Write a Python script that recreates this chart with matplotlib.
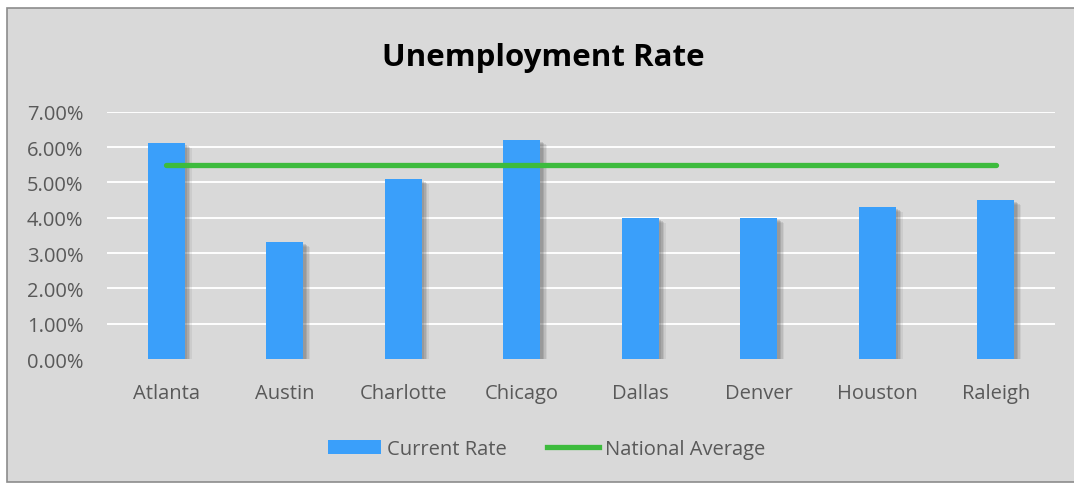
import matplotlib.pyplot as plt
import matplotlib.patheffects as pe
from matplotlib.patches import Rectangle, Patch
from matplotlib.lines import Line2D
from matplotlib.ticker import PercentFormatter

cities = ['Atlanta', 'Austin', 'Charlotte', 'Chicago', 'Dallas', 'Denver', 'Houston', 'Raleigh']
current_rate = [0.061, 0.033, 0.051, 0.062, 0.040, 0.040, 0.043, 0.045]
national_average = [0.055] * len(cities)

bar_color = '#3a9ffa'
line_color = '#3dbb3d'
text_color = '#595959'
plt.rcParams['font.family'] = ['Open Sans', 'DejaVu Sans']

fig = plt.figure(figsize=(10.74, 4.85), dpi=100)
fig.patch.set_facecolor('white')

# grey chart frame
fig.patches.append(Rectangle((7 / 1074, 2 / 485), 1.1, (485 - 11) / 485,
                             transform=fig.transFigure, facecolor='#d9d9d9',
                             edgecolor='#8c8c8c', linewidth=1.2, zorder=-10))

ax = fig.add_axes([107 / 1074, 1 - 360 / 485, 948 / 1074, 247.3 / 485])
ax.set_facecolor('none')

x = range(len(cities))
shadow = [pe.SimplePatchShadow(offset=(o, -o * 0.7), shadow_rgbFace='#606060', alpha=a)
          for o, a in [(5.0, 0.1), (4.0, 0.15), (3.0, 0.2), (2.0, 0.2)]]
bars = ax.bar(x, current_rate, width=0.31, color=bar_color, zorder=3,
              label='Current Rate')
for b in bars:
    b.set_path_effects(shadow + [pe.Normal()])

ax.plot(x, national_average, color=line_color, linewidth=3.8, zorder=4,
        solid_capstyle='round', label='National Average')

ax.set_xlim(-0.5, len(cities) - 0.5)
ax.set_ylim(0, 0.07)
ax.set_yticks([i / 100 for i in range(8)])
ax.yaxis.set_major_formatter(PercentFormatter(1.0, decimals=2))
ax.set_xticks(list(x))
ax.set_xticklabels(cities)
ax.tick_params(axis='both', length=0, labelsize=14.5, labelcolor=text_color)
ax.tick_params(axis='x', pad=17)
ax.tick_params(axis='y', pad=17)
for s in ax.spines.values():
    s.set_visible(False)
ax.yaxis.grid(True, color='white', linewidth=1.4, zorder=1)
ax.set_axisbelow(True)
ax.get_ygridlines()[0].set_visible(False)

fig.text(543 / 1074, 1 - 58 / 485, 'Unemployment Rate', ha='center', va='center',
         fontsize=22.5, fontweight='bold', color='black')

handles = [Patch(facecolor=bar_color, label='Current Rate'),
           Line2D([], [], color=line_color, linewidth=3.8, label='National Average')]
fig.legend(handles=handles, loc='center', bbox_to_anchor=(547 / 1074, 1 - 450 / 485),
           ncol=2, frameon=False, fontsize=14.5, labelcolor=text_color,
           handlelength=2.6, handleheight=0.75, handletextpad=0.3, columnspacing=2.0)

fig.savefig('out.png', dpi=100)
